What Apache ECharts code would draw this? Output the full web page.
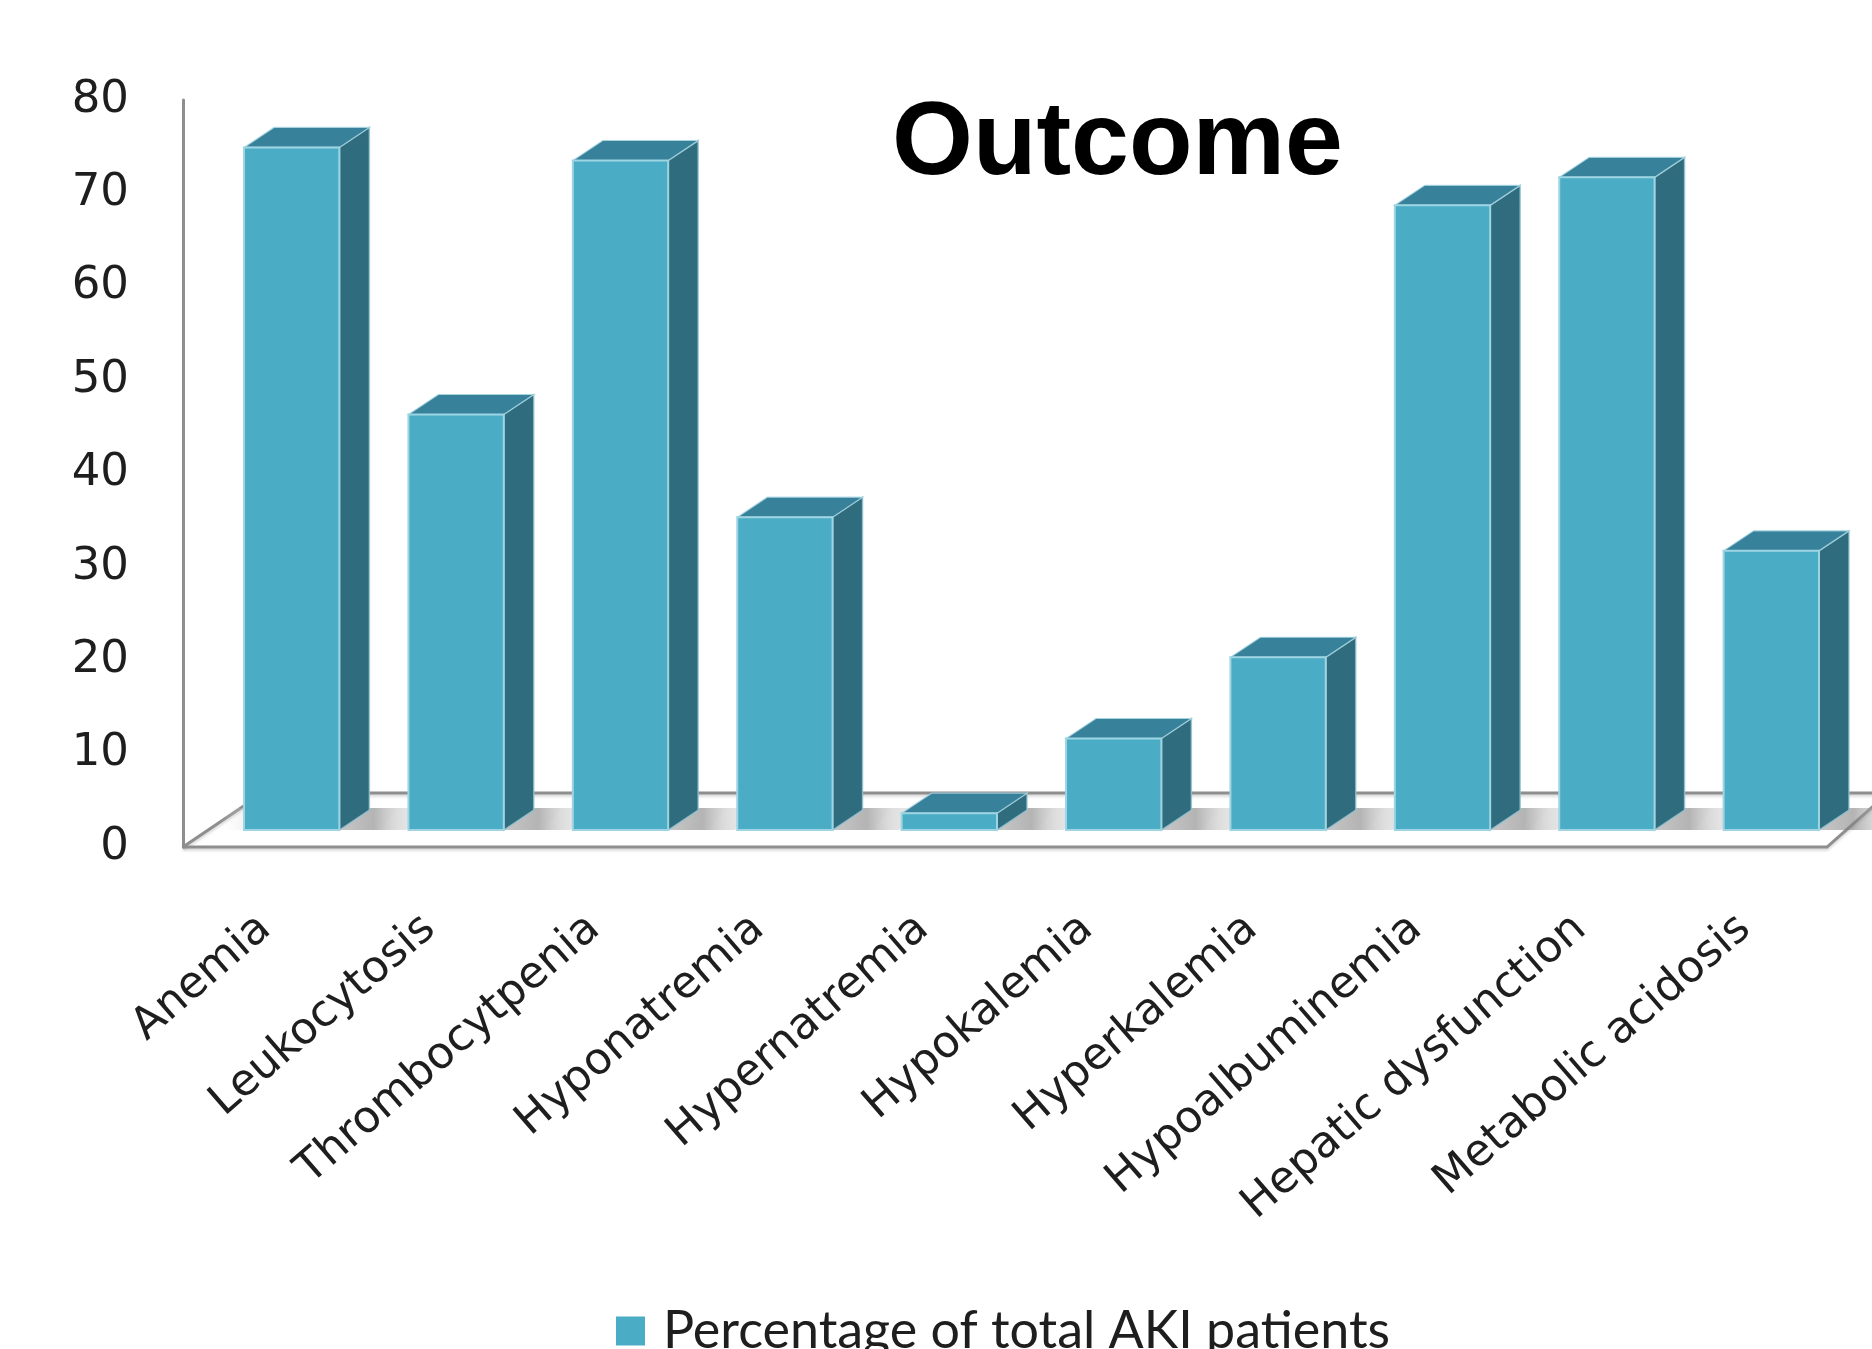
<!DOCTYPE html>
<html>
<head>
<meta charset="utf-8">
<script src="https://cdn.jsdelivr.net/npm/echarts@6/dist/echarts.min.js"></script>
<style>
  html, body { margin: 0; padding: 0; background: #ffffff; }
  #chart { width: 1872px; height: 1349px; }
</style>
</head>
<body>
<div id="chart"></div>
<script>
// ---- data ----
const categories = [
  'Anemia', 'Leukocytosis', 'Thrombocytpenia', 'Hyponatremia', 'Hypernatremia',
  'Hypokalemia', 'Hyperkalemia', 'Hypoalbuminemia', 'Hepatic dysfunction', 'Metabolic acidosis'
];
const percentages = [73.1, 44.5, 71.7, 33.5, 1.8, 9.8, 18.5, 66.9, 69.9, 29.9];
const valueTicks = [0, 10, 20, 30, 40, 50, 60, 70, 80];
const seriesName = 'Percentage of total AKI patients';
const chartTitle = 'Outcome';

// ---- look of the pseudo-3D columns ----
const FRONT = '#4BACC6';
const SIDE = '#2F6C7D';
const TOP = '#37819A';
const FLOOR_LINE = '#8e8e8e';
const BAR_DEPTH = [30, -20];       // projected depth of a column
const FLOOR_DEPTH_L = [80, -54];   // projected depth of the floor, left end
const FLOOR_DEPTH_R = [61, -54];   // projected depth of the floor, right end
const BAR_WIDTH_RATIO = 0.58;

// front plane (value axis, category labels) and bar plane (columns) share
// the same scale, the bar plane is pushed back into the floor
const front = { left: 183, right: 45, top: 100, bottom: 502 };
const shift = [26.5, -17];
const barPlane = {
  left: front.left + shift[0], right: front.right - shift[0],
  top: front.top + shift[1], bottom: front.bottom - shift[1]
};

const chart = echarts.init(document.getElementById('chart'), null, { renderer: 'canvas' });

function floorItem(params, api) {
  const n = categories.length;
  const c0 = api.coord([0, 0]);
  const cN = api.coord([n - 1, 0]);
  const band = api.size([1, 0])[0];
  const xl = c0[0] - band / 2, xr = cN[0] + band / 2, y = c0[1];
  const bl = [xl + FLOOR_DEPTH_L[0], y + FLOOR_DEPTH_L[1]];
  const br = [xr + FLOOR_DEPTH_R[0], y + FLOOR_DEPTH_R[1]];
  const lineStyle = {
    stroke: FLOOR_LINE, lineWidth: 3, fill: null,
    shadowColor: 'rgba(0,0,0,0.18)', shadowBlur: 3, shadowOffsetY: 2
  };
  return {
    type: 'group',
    children: [
      { type: 'polyline', shape: { points: [[xl, y], bl, br] }, style: lineStyle },
      { type: 'polyline', shape: { points: [[xl, y], [xr, y], br] }, style: lineStyle }
    ]
  };
}

// soft shadow on the floor beside each column
function shadowItem(params, api) {
  const i = api.value(0);
  const base = api.coord([i, 0]);
  const w = api.size([1, 0])[0] * BAR_WIDTH_RATIO;
  const x1 = base[0] - w / 2, x2 = base[0] + w / 2, yb = base[1];
  const [dx, dy] = BAR_DEPTH;
  const len = 72;
  return {
    type: 'group',
    children: [
      {
        type: 'polygon',
        shape: { points: [[x2 - 2, yb], [x2 + dx, yb + dy - 2], [x2 + dx + len, yb + dy - 2], [x2 + len - 6, yb]] },
        style: {
          fill: new echarts.graphic.LinearGradient(0, 0, 1, 0, [
            { offset: 0, color: 'rgba(120,120,120,0.4)' },
            { offset: 0.35, color: 'rgba(130,130,130,0.6)' },
            { offset: 0.7, color: 'rgba(200,200,200,0.35)' },
            { offset: 1, color: 'rgba(255,255,255,0)' }
          ])
        }
      },
      {
        type: 'polygon',
        shape: { points: [[x1 - 30, yb], [x1, yb], [x1 + dx, yb + dy - 2], [x1 + dx - 40, yb + dy - 2]] },
        style: {
          fill: new echarts.graphic.LinearGradient(0, 0, 1, 0, [
            { offset: 0, color: 'rgba(255,255,255,0)' },
            { offset: 1, color: 'rgba(160,160,160,0.5)' }
          ])
        }
      }
    ]
  };
}

function columnItem(params, api) {
  const i = api.value(0), v = api.value(1);
  const base = api.coord([i, 0]);
  const top = api.coord([i, v]);
  const w = api.size([1, 0])[0] * BAR_WIDTH_RATIO;
  const x1 = base[0] - w / 2, x2 = base[0] + w / 2, yb = base[1], yt = top[1];
  const [dx, dy] = BAR_DEPTH;
  return {
    type: 'group',
    children: [
      {
        type: 'polygon',
        shape: { points: [[x2, yt], [x2 + dx, yt + dy], [x2 + dx, yb + dy], [x2, yb]] },
        style: { fill: SIDE, stroke: 'rgba(150,195,210,0.8)', lineWidth: 1.5 }
      },
      {
        type: 'polygon',
        shape: { points: [[x1, yt], [x1 + dx, yt + dy], [x2 + dx, yt + dy], [x2, yt]] },
        style: { fill: TOP, stroke: 'rgba(170,215,228,0.8)', lineWidth: 1.2 }
      },
      {
        type: 'rect',
        shape: { x: x1, y: yt, width: w, height: yb - yt },
        style: { fill: FRONT, stroke: '#9fd5e3', lineWidth: 2 }
      }
    ]
  };
}

const option = {
  animation: false,
  backgroundColor: '#ffffff',
  title: {
    text: chartTitle,
    left: 892,
    top: 93,
    padding: 0,
    textStyle: {
      fontFamily: 'Liberation Sans, Arial, sans-serif',
      fontWeight: 'bold',
      fontSize: 104,
      color: '#000000'
    }
  },
  legend: {
    data: [seriesName],
    left: 616,
    top: 1305,
    padding: 0,
    icon: 'rect',
    itemWidth: 29,
    itemHeight: 29,
    textStyle: {
      fontFamily: 'Lato, sans-serif',
      fontSize: 52,
      color: '#1e1e1e',
      padding: [0, 0, 0, 13]
    }
  },
  grid: [
    Object.assign({}, front),
    Object.assign({}, barPlane)
  ],
  xAxis: [
    {
      type: 'category', gridIndex: 0, data: categories,
      axisLine: { show: false },
      axisTick: { show: false },
      axisLabel: {
        interval: 0,
        rotate: 41,
        margin: 76,
        fontFamily: 'DejaVu Sans, sans-serif',
        fontSize: 44,
        color: '#1e1e1e'
      }
    },
    { type: 'category', gridIndex: 1, data: categories, show: false }
  ],
  yAxis: [
    {
      type: 'value', gridIndex: 0,
      min: valueTicks[0],
      max: valueTicks[valueTicks.length - 1],
      interval: valueTicks[1] - valueTicks[0],
      axisLine: { show: true, lineStyle: { color: FLOOR_LINE, width: 3 } },
      axisTick: { show: false },
      splitLine: { show: false },
      axisLabel: {
        margin: 54,
        fontFamily: 'DejaVu Sans, sans-serif',
        fontSize: 45,
        color: '#1e1e1e'
      }
    },
    {
      type: 'value', gridIndex: 1,
      min: valueTicks[0],
      max: valueTicks[valueTicks.length - 1],
      show: false
    }
  ],
  series: [
    {
      type: 'custom', name: 'floor',
      xAxisIndex: 0, yAxisIndex: 0,
      data: [[0, 0]],
      renderItem: floorItem,
      silent: true, z: 1
    },
    {
      type: 'custom', name: 'floor shadow',
      xAxisIndex: 1, yAxisIndex: 1,
      data: percentages.map((v, i) => [i, v]),
      renderItem: shadowItem,
      silent: true, z: 2
    },
    {
      type: 'custom', name: seriesName,
      xAxisIndex: 1, yAxisIndex: 1,
      data: percentages.map((v, i) => [i, v]),
      encode: { x: 0, y: 1 },
      itemStyle: { color: FRONT },
      renderItem: columnItem,
      z: 3
    }
  ]
};

chart.setOption(option);
</script>
</body>
</html>
